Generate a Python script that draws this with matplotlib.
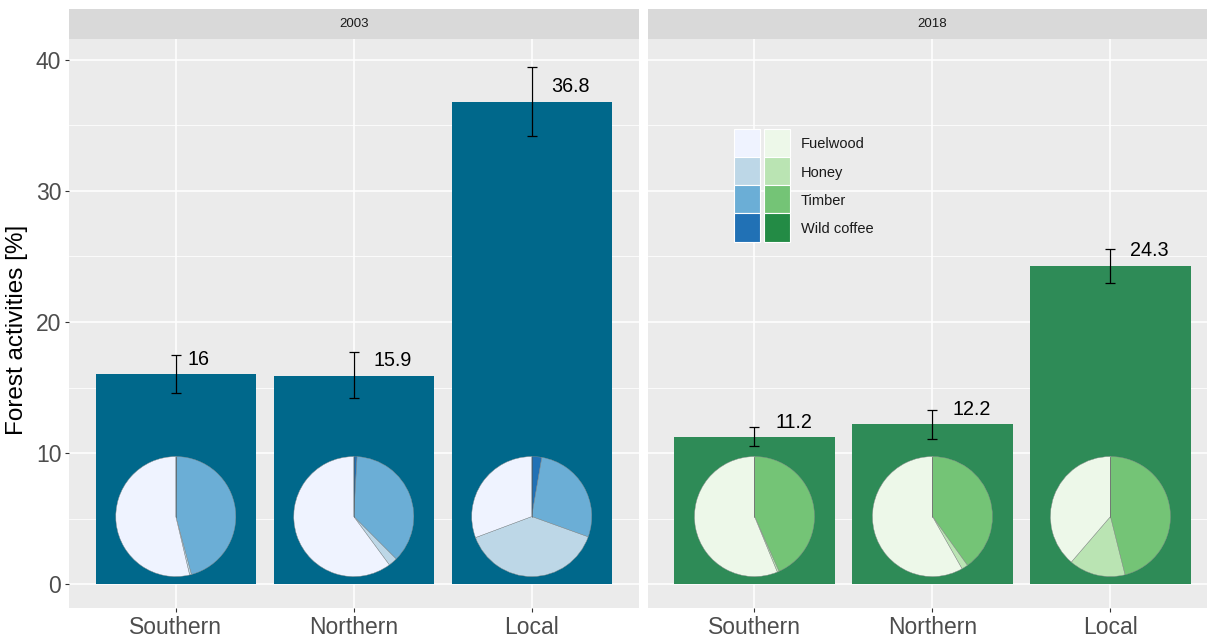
import matplotlib
matplotlib.use("Agg")
import matplotlib.pyplot as plt
from matplotlib.patches import Wedge, Rectangle
from matplotlib.transforms import Affine2D
import numpy as np

plt.rcParams['font.family'] = ['Liberation Sans', 'DejaVu Sans']

# ---------------- data ----------------
years = ["2003", "2018"]
regions = ["Southern", "Northern", "Local"]
activity_2003 = [16.0, 15.9, 36.8]
activity_2018 = [11.2, 12.2, 24.3]
err_lo_2003 = [14.6, 14.2, 34.2]
err_hi_2003 = [17.5, 17.7, 39.5]
err_lo_2018 = [10.5, 11.1, 23.0]
err_hi_2018 = [12.0, 13.3, 25.6]
labels_2003 = ["16", "15.9", "36.8"]
labels_2018 = ["11.2", "12.2", "24.3"]

products = ["Fuelwood", "Honey", "Timber", "Wild coffee"]
# shares (%) per region, order: Fuelwood, Honey, Timber, Wild coffee
share_2003 = {
    "Southern": [53.7, 0.5, 45.6, 0.2],
    "Northern": [60.1, 2.4, 36.6, 0.9],
    "Local":    [30.7, 38.8, 27.8, 2.7],
}
share_2018 = {
    "Southern": [56.2, 0.5, 43.3, 0.0],
    "Northern": [58.2, 1.7, 40.1, 0.0],
    "Local":    [38.7, 15.2, 46.1, 0.0],
}

blues = ["#EFF3FF", "#BDD7E7", "#6BAED6", "#2171B5"]
greens = ["#EDF8E9", "#BAE4B3", "#74C476", "#238B45"]
bar_colors = ["#00688B", "#2E8B57"]

# ---------------- layout ----------------
W, H = 1207, 642
fig = plt.figure(figsize=(W / 100, H / 100), dpi=100)
fig.patch.set_facecolor("white")

def fx(px):
    return px / W

def fy(py):
    return 1 - py / H

panel_top, panel_bot = 39, 608
panel_w = 569.5
lefts = [69, 647.7]
ylim = (-1.83, 41.6)
xlim = (0.4, 3.6)

series = [
    (activity_2003, err_lo_2003, err_hi_2003, labels_2003, share_2003, blues),
    (activity_2018, err_lo_2018, err_hi_2018, labels_2018, share_2018, greens),
]
label_dx = [[0.13, 0.22, 0.22], [0.22, 0.22, 0.22]]

for k, (vals, lo, hi, labs, shares, pal) in enumerate(series):
    ax = fig.add_axes([fx(lefts[k]), fy(panel_bot), panel_w / W, (panel_bot - panel_top) / H])
    ax.set_facecolor("#EBEBEB")
    ax.set_xlim(*xlim)
    ax.set_ylim(*ylim)
    for s in ax.spines.values():
        s.set_visible(False)
    x = np.arange(1, len(regions) + 1)
    ax.set_xticks(x)
    ax.set_xticklabels(regions, fontsize=16.5, color="#4D4D4D")
    ax.set_yticks([0, 10, 20, 30, 40])
    ax.set_yticks([5, 15, 25, 35], minor=True)
    ax.tick_params(axis="both", which="major", length=3, width=0.8, color="#333333", pad=2.5)
    ax.tick_params(axis="y", which="minor", length=0)
    if k == 0:
        ax.set_yticklabels(["0", "10", "20", "30", "40"], fontsize=16.5, color="#4D4D4D")
    else:
        ax.tick_params(axis="y", which="major", length=0, labelleft=False)
    ax.grid(True, which="major", color="white", linewidth=1.1, zorder=0)
    ax.grid(True, which="minor", axis="y", color="white", linewidth=0.55, zorder=0)
    ax.set_axisbelow(True)

    ax.bar(x, vals, width=0.9, color=bar_colors[k], zorder=2)
    yerr = [np.array(vals) - np.array(lo), np.array(hi) - np.array(vals)]
    ax.errorbar(x, vals, yerr=yerr, fmt="none", ecolor="black", elinewidth=0.9,
                capsize=3.3, capthick=0.9, zorder=4)
    for i, v in enumerate(vals):
        ax.text(x[i] + label_dx[k][i], v + 1.15, labs[i], fontsize=14.2,
                ha="center", va="center", color="black", zorder=5)

    # pies (circular in pixels)
    px_per_x = panel_w / (xlim[1] - xlim[0])
    px_per_y = (panel_bot - panel_top) / (ylim[1] - ylim[0])
    r_px = 60
    rx, ry = r_px / px_per_x, r_px / px_per_y
    cy = 5.15
    order = [3, 2, 1, 0]  # clockwise from 12 o'clock: Wild coffee, Timber, Honey, Fuelwood
    for i, reg in enumerate(regions):
        sh = np.array(shares[reg], dtype=float)
        sh = sh / sh.sum()
        tr = Affine2D().scale(rx, ry).translate(x[i], cy) + ax.transData
        start = 0.0
        for j in order:
            frac = sh[j]
            end = start + frac
            if frac > 0:
                w = Wedge((0, 0), 1, 90 - end * 360, 90 - start * 360,
                          facecolor=pal[j], edgecolor="#8c8c8c", linewidth=0.3,
                          transform=tr, zorder=3)
                ax.add_patch(w)
            start = end
        # thin separating line at 12 o'clock
        ax.plot([0, 0], [0, 1], transform=tr, color="#555555", linewidth=0.4, zorder=3)

    # strip
    sax = fig.add_axes([fx(lefts[k]), fy(panel_top), panel_w / W, (panel_top - 8.7) / H])
    sax.set_facecolor("#D9D9D9")
    sax.set_xticks([])
    sax.set_yticks([])
    for s in sax.spines.values():
        s.set_visible(False)
    sax.text(0.5, 0.5, years[k], transform=sax.transAxes, ha="center", va="center",
             fontsize=9.5, color="#1A1A1A")

fig.text(fx(17), fy(329.5), "Forest activities [%]", rotation=90, ha="center",
         va="center", fontsize=17.5, color="black")

# legend (manual)
key_w, key_h = 26, 28.3
row_top = 128.5
for r, name in enumerate(products):
    y0 = row_top + r * key_h
    for c, pal in enumerate([blues, greens]):
        x0 = 734.3 + c * 30
        fig.add_artist(Rectangle((fx(x0), fy(y0 + key_h)), key_w / W, key_h / H,
                                 transform=fig.transFigure, facecolor=pal[r],
                                 edgecolor="white", linewidth=0.8, zorder=10))
    fig.text(fx(800.5), fy(y0 + key_h / 2 + 1.8), name, ha="left", va="center",
             fontsize=10.5, color="#1A1A1A", zorder=11)

fig.savefig("out.png", dpi=100)
